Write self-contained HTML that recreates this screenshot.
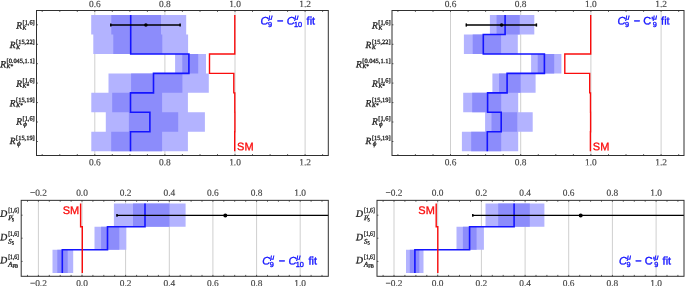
<!DOCTYPE html><html><head><meta charset="utf-8"><title>fit plots</title><style>html,body{margin:0;padding:0;background:#fff}svg{display:block}text{font-family:"Liberation Serif",serif}.s{font-family:"Liberation Sans",sans-serif}</style></head><body>
<svg width="685" height="286" viewBox="0 0 685 286">
<rect width="685" height="286" fill="#fff"/>
<line x1="94.8" y1="10.5" x2="94.8" y2="155.5" stroke="#cfcfcf" stroke-width="1"/>
<line x1="164.9" y1="10.5" x2="164.9" y2="155.5" stroke="#cfcfcf" stroke-width="1"/>
<line x1="235.0" y1="10.5" x2="235.0" y2="155.5" stroke="#cfcfcf" stroke-width="1"/>
<line x1="305.1" y1="10.5" x2="305.1" y2="155.5" stroke="#cfcfcf" stroke-width="1"/>
<path d="M186.2 15.10L186.2 34.54L188.1 34.54L188.1 53.98L206.0 53.98L206.0 73.42L208.8 73.42L208.8 92.86L187.9 92.86L187.9 112.30L204.9 112.30L204.9 131.74L187.9 131.74L187.9 151.18L91.3 151.18L91.3 131.74L105.8 131.74L105.8 112.30L91.3 112.30L91.3 92.86L108.5 92.86L108.5 73.42L175.1 73.42L175.1 53.98L93.3 53.98L93.3 34.54L91.2 34.54L91.2 15.10Z" fill="#b3b3ff"/>
<path d="M161.0 15.10L161.0 34.54L162.3 34.54L162.3 53.98L198.2 53.98L198.2 73.42L182.4 73.42L182.4 92.86L162.1 92.86L162.1 112.30L178.2 112.30L178.2 131.74L162.1 131.74L162.1 151.18L111.2 151.18L111.2 131.74L128.9 131.74L128.9 112.30L112.2 112.30L112.2 92.86L131.1 92.86L131.1 73.42L182.3 73.42L182.3 53.98L113.3 53.98L113.3 34.54L111.3 34.54L111.3 15.10Z" fill="#8c8cfb"/>
<path d="M130.7 15.1L130.7 34.5L130.7 34.5L130.7 54.0L188.9 54.0L188.9 73.4L153.5 73.4L153.5 92.9L130.5 92.9L130.5 112.3L149.9 112.3L149.9 131.7L130.5 131.7L130.5 151.2" fill="none" stroke="#1414ff" stroke-width="1.6" stroke-linejoin="miter"/>
<path d="M234.8 15.1L234.8 34.5L234.8 34.5L234.8 54.0L209.5 54.0L209.5 73.4L233.8 73.4L233.8 92.9L234.8 92.9L234.8 112.3L234.9 112.3L234.9 131.7L234.7 131.7L234.7 151.2" fill="none" stroke="#fa0c0c" stroke-width="1.4" stroke-linejoin="miter"/>
<line x1="110.5" y1="25" x2="180.4" y2="25" stroke="#000" stroke-width="1.4"/>
<line x1="110.8" y1="23.4" x2="110.8" y2="26.6" stroke="#000" stroke-width="1.5"/>
<line x1="180.1" y1="23.4" x2="180.1" y2="26.6" stroke="#000" stroke-width="1.5"/>
<circle cx="145.9" cy="25" r="1.8" fill="#000"/>
<rect x="36.5" y="10.5" width="291.8" height="145.0" fill="none" stroke="#303030" stroke-width="1"/>
<path d="M42.2 10.5v1.4M42.2 155.5v-1.4M59.8 10.5v1.4M59.8 155.5v-1.4M77.3 10.5v1.4M77.3 155.5v-1.4M94.8 10.5v1.4M94.8 155.5v-1.4M112.3 10.5v1.4M112.3 155.5v-1.4M129.9 10.5v1.4M129.9 155.5v-1.4M147.4 10.5v1.4M147.4 155.5v-1.4M164.9 10.5v1.4M164.9 155.5v-1.4M182.4 10.5v1.4M182.4 155.5v-1.4M200.0 10.5v1.4M200.0 155.5v-1.4M217.5 10.5v1.4M217.5 155.5v-1.4M235.0 10.5v1.4M235.0 155.5v-1.4M252.5 10.5v1.4M252.5 155.5v-1.4M270.1 10.5v1.4M270.1 155.5v-1.4M287.6 10.5v1.4M287.6 155.5v-1.4M305.1 10.5v1.4M305.1 155.5v-1.4M322.6 10.5v1.4M322.6 155.5v-1.4M36.5 24.8h1.4M36.5 44.3h1.4M36.5 63.7h1.4M36.5 83.1h1.4M36.5 102.6h1.4M36.5 122.0h1.4M36.5 141.5h1.4" stroke="#303030" stroke-width="0.8" fill="none"/>
<text x="94.8" y="6.9" transform="rotate(0.05 94.8 6.9)" font-size="9.4" text-anchor="middle" fill="#444" stroke="#444" stroke-width="0.15">0.6</text>
<text x="94.8" y="165.2" transform="rotate(0.05 94.8 165.2)" font-size="9.4" text-anchor="middle" fill="#444" stroke="#444" stroke-width="0.15">0.6</text>
<text x="164.9" y="6.9" transform="rotate(0.05 164.9 6.9)" font-size="9.4" text-anchor="middle" fill="#444" stroke="#444" stroke-width="0.15">0.8</text>
<text x="164.9" y="165.2" transform="rotate(0.05 164.9 165.2)" font-size="9.4" text-anchor="middle" fill="#444" stroke="#444" stroke-width="0.15">0.8</text>
<text x="235.0" y="6.9" transform="rotate(0.05 235.0 6.9)" font-size="9.4" text-anchor="middle" fill="#444" stroke="#444" stroke-width="0.15">1.0</text>
<text x="235.0" y="165.2" transform="rotate(0.05 235.0 165.2)" font-size="9.4" text-anchor="middle" fill="#444" stroke="#444" stroke-width="0.15">1.0</text>
<text x="305.1" y="6.9" transform="rotate(0.05 305.1 6.9)" font-size="9.4" text-anchor="middle" fill="#444" stroke="#444" stroke-width="0.15">1.2</text>
<text x="305.1" y="165.2" transform="rotate(0.05 305.1 165.2)" font-size="9.4" text-anchor="middle" fill="#444" stroke="#444" stroke-width="0.15">1.2</text>
<text x="22.0" y="28.6" transform="rotate(0.05 22.0 28.6)" font-size="9.5" font-style="italic" text-anchor="end" fill="#222" stroke="#222" stroke-width="0.3">R</text>
<text x="22.6" y="29.6" transform="rotate(0.05 22.6 29.6)" font-size="5.6" font-style="italic" fill="#222" stroke="#222" stroke-width="0.3">K</text>
<text x="22.5" y="24.5" transform="rotate(0.05 22.5 24.5)" font-size="6.4" fill="#222" stroke="#222" stroke-width="0.3">[1,6]</text>
<text x="15.6" y="48.1" transform="rotate(0.05 15.6 48.1)" font-size="9.5" font-style="italic" text-anchor="end" fill="#222" stroke="#222" stroke-width="0.3">R</text>
<text x="16.2" y="49.1" transform="rotate(0.05 16.2 49.1)" font-size="5.6" font-style="italic" fill="#222" stroke="#222" stroke-width="0.3">K</text>
<text x="16.1" y="44.0" transform="rotate(0.05 16.1 44.0)" font-size="6.4" fill="#222" stroke="#222" stroke-width="0.3">[15,22]</text>
<text x="6.0" y="67.3" transform="rotate(0.05 6.0 67.3)" font-size="9.5" font-style="italic" text-anchor="end" fill="#222" stroke="#222" stroke-width="0.3">R</text>
<text x="6.6" y="68.1" transform="rotate(0.05 6.6 68.1)" font-size="5.6" font-style="italic" fill="#222" stroke="#222" stroke-width="0.3">K*</text>
<text x="6.5" y="63.1" transform="rotate(0.05 6.5 63.1)" font-size="6.4" fill="#222" stroke="#222" stroke-width="0.3">[0.045,1.1]</text>
<text x="22.0" y="86.7" transform="rotate(0.05 22.0 86.7)" font-size="9.5" font-style="italic" text-anchor="end" fill="#222" stroke="#222" stroke-width="0.3">R</text>
<text x="22.6" y="87.5" transform="rotate(0.05 22.6 87.5)" font-size="5.6" font-style="italic" fill="#222" stroke="#222" stroke-width="0.3">K*</text>
<text x="22.5" y="82.5" transform="rotate(0.05 22.5 82.5)" font-size="6.4" fill="#222" stroke="#222" stroke-width="0.3">[1,6]</text>
<text x="15.6" y="106.2" transform="rotate(0.05 15.6 106.2)" font-size="9.5" font-style="italic" text-anchor="end" fill="#222" stroke="#222" stroke-width="0.3">R</text>
<text x="16.2" y="107.0" transform="rotate(0.05 16.2 107.0)" font-size="5.6" font-style="italic" fill="#222" stroke="#222" stroke-width="0.3">K*</text>
<text x="16.1" y="102.0" transform="rotate(0.05 16.1 102.0)" font-size="6.4" fill="#222" stroke="#222" stroke-width="0.3">[15,19]</text>
<text x="22.0" y="124.4" transform="rotate(0.05 22.0 124.4)" font-size="9.5" font-style="italic" text-anchor="end" fill="#222" stroke="#222" stroke-width="0.3">R</text>
<text x="23.3" y="126.2" transform="rotate(0.05 23.3 126.2)" font-size="7" font-style="italic" fill="#222" stroke="#222" stroke-width="0.3">ϕ</text>
<text x="22.5" y="120.4" transform="rotate(0.05 22.5 120.4)" font-size="6.4" fill="#222" stroke="#222" stroke-width="0.3">[1,6]</text>
<text x="15.6" y="143.9" transform="rotate(0.05 15.6 143.9)" font-size="9.5" font-style="italic" text-anchor="end" fill="#222" stroke="#222" stroke-width="0.3">R</text>
<text x="16.9" y="145.7" transform="rotate(0.05 16.9 145.7)" font-size="7" font-style="italic" fill="#222" stroke="#222" stroke-width="0.3">ϕ</text>
<text x="16.1" y="139.9" transform="rotate(0.05 16.1 139.9)" font-size="6.4" fill="#222" stroke="#222" stroke-width="0.3">[15,19]</text>
<text class="s" x="260.4" y="24.5" transform="rotate(0.05 260.4 24.5)" font-size="11" fill="#1414ff" stroke="#1414ff" stroke-width="0.35" font-style="italic">C</text>
<text class="s" x="268.0" y="27.1" transform="rotate(0.05 268.0 27.1)" font-size="7.3" fill="#1414ff" stroke="#1414ff" stroke-width="0.35">9</text>
<text class="s" x="268.5" y="19.6" transform="rotate(0.05 268.5 19.6)" font-size="7.3" fill="#1414ff" stroke="#1414ff" stroke-width="0.35" font-style="italic">μ</text>
<text class="s" x="277.0" y="24.5" transform="rotate(0.05 277.0 24.5)" font-size="11" fill="#1414ff" stroke="#1414ff" stroke-width="0.35">−</text>
<text class="s" x="286.7" y="24.5" transform="rotate(0.05 286.7 24.5)" font-size="11" fill="#1414ff" stroke="#1414ff" stroke-width="0.35" font-style="italic">C</text>
<text class="s" x="294.0" y="27.1" transform="rotate(0.05 294.0 27.1)" font-size="7.3" fill="#1414ff" stroke="#1414ff" stroke-width="0.35">10</text>
<text class="s" x="294.6" y="19.6" transform="rotate(0.05 294.6 19.6)" font-size="7.3" fill="#1414ff" stroke="#1414ff" stroke-width="0.35" font-style="italic">μ</text>
<text class="s" x="306.6" y="24.5" transform="rotate(0.05 306.6 24.5)" font-size="11" fill="#1414ff" stroke="#1414ff" stroke-width="0.35">fit</text>
<text class="s" x="237.1" y="150.2" transform="rotate(0.05 237.1 150.2)" font-size="11" fill="#fa0c0c" stroke="#fa0c0c" stroke-width="0.3">SM</text>
<line x1="450.5" y1="10.5" x2="450.5" y2="155.5" stroke="#cfcfcf" stroke-width="1"/>
<line x1="520.7" y1="10.5" x2="520.7" y2="155.5" stroke="#cfcfcf" stroke-width="1"/>
<line x1="590.9" y1="10.5" x2="590.9" y2="155.5" stroke="#cfcfcf" stroke-width="1"/>
<line x1="661.1" y1="10.5" x2="661.1" y2="155.5" stroke="#cfcfcf" stroke-width="1"/>
<path d="M534.3 15.10L534.3 34.54L517.8 34.54L517.8 53.98L561.4 53.98L561.4 73.42L535.6 73.42L535.6 92.86L518.2 92.86L518.2 112.30L532.7 112.30L532.7 131.74L518.2 131.74L518.2 151.18L461.9 151.18L461.9 131.74L485.1 131.74L485.1 112.30L463.2 112.30L463.2 92.86L492.4 92.86L492.4 73.42L531.1 73.42L531.1 53.98L463.9 53.98L463.9 34.54L489.9 34.54L489.9 15.10Z" fill="#b3b3ff"/>
<path d="M519.7 15.10L519.7 34.54L501.1 34.54L501.1 53.98L554.2 53.98L554.2 73.42L520.7 73.42L520.7 92.86L501.2 92.86L501.2 112.30L517.3 112.30L517.3 131.74L501.2 131.74L501.2 151.18L471.2 151.18L471.2 131.74L491.5 131.74L491.5 112.30L472.2 112.30L472.2 92.86L499.0 92.86L499.0 73.42L537.7 73.42L537.7 53.98L472.7 53.98L472.7 34.54L496.6 34.54L496.6 15.10Z" fill="#8c8cfb"/>
<path d="M505.1 15.1L505.1 34.5L483.3 34.5L483.3 54.0L544.4 54.0L544.4 73.4L507.1 73.4L507.1 92.9L487.6 92.9L487.6 112.3L501.2 112.3L501.2 131.7L487.3 131.7L487.3 151.2" fill="none" stroke="#1414ff" stroke-width="1.6" stroke-linejoin="miter"/>
<path d="M590.7 15.1L590.7 34.5L590.7 34.5L590.7 54.0L564.8 54.0L564.8 73.4L589.7 73.4L589.7 92.9L590.5 92.9L590.5 112.3L590.6 112.3L590.6 131.7L590.4 131.7L590.4 151.2" fill="none" stroke="#fa0c0c" stroke-width="1.4" stroke-linejoin="miter"/>
<line x1="466.0" y1="25" x2="536.7" y2="25" stroke="#000" stroke-width="1.4"/>
<line x1="466.3" y1="23.4" x2="466.3" y2="26.6" stroke="#000" stroke-width="1.5"/>
<line x1="536.4" y1="23.4" x2="536.4" y2="26.6" stroke="#000" stroke-width="1.5"/>
<circle cx="501.6" cy="25" r="1.8" fill="#000"/>
<rect x="392.0" y="10.5" width="292.0" height="145.0" fill="none" stroke="#303030" stroke-width="1"/>
<path d="M397.9 10.5v1.4M397.9 155.5v-1.4M415.4 10.5v1.4M415.4 155.5v-1.4M433.0 10.5v1.4M433.0 155.5v-1.4M450.5 10.5v1.4M450.5 155.5v-1.4M468.1 10.5v1.4M468.1 155.5v-1.4M485.6 10.5v1.4M485.6 155.5v-1.4M503.2 10.5v1.4M503.2 155.5v-1.4M520.7 10.5v1.4M520.7 155.5v-1.4M538.3 10.5v1.4M538.3 155.5v-1.4M555.8 10.5v1.4M555.8 155.5v-1.4M573.4 10.5v1.4M573.4 155.5v-1.4M590.9 10.5v1.4M590.9 155.5v-1.4M608.5 10.5v1.4M608.5 155.5v-1.4M626.0 10.5v1.4M626.0 155.5v-1.4M643.6 10.5v1.4M643.6 155.5v-1.4M661.1 10.5v1.4M661.1 155.5v-1.4M678.7 10.5v1.4M678.7 155.5v-1.4M392.0 24.8h1.4M392.0 44.3h1.4M392.0 63.7h1.4M392.0 83.1h1.4M392.0 102.6h1.4M392.0 122.0h1.4M392.0 141.5h1.4" stroke="#303030" stroke-width="0.8" fill="none"/>
<text x="450.5" y="6.9" transform="rotate(0.05 450.5 6.9)" font-size="9.4" text-anchor="middle" fill="#444" stroke="#444" stroke-width="0.15">0.6</text>
<text x="450.5" y="165.2" transform="rotate(0.05 450.5 165.2)" font-size="9.4" text-anchor="middle" fill="#444" stroke="#444" stroke-width="0.15">0.6</text>
<text x="520.7" y="6.9" transform="rotate(0.05 520.7 6.9)" font-size="9.4" text-anchor="middle" fill="#444" stroke="#444" stroke-width="0.15">0.8</text>
<text x="520.7" y="165.2" transform="rotate(0.05 520.7 165.2)" font-size="9.4" text-anchor="middle" fill="#444" stroke="#444" stroke-width="0.15">0.8</text>
<text x="590.9" y="6.9" transform="rotate(0.05 590.9 6.9)" font-size="9.4" text-anchor="middle" fill="#444" stroke="#444" stroke-width="0.15">1.0</text>
<text x="590.9" y="165.2" transform="rotate(0.05 590.9 165.2)" font-size="9.4" text-anchor="middle" fill="#444" stroke="#444" stroke-width="0.15">1.0</text>
<text x="661.1" y="6.9" transform="rotate(0.05 661.1 6.9)" font-size="9.4" text-anchor="middle" fill="#444" stroke="#444" stroke-width="0.15">1.2</text>
<text x="661.1" y="165.2" transform="rotate(0.05 661.1 165.2)" font-size="9.4" text-anchor="middle" fill="#444" stroke="#444" stroke-width="0.15">1.2</text>
<text x="377.8" y="28.6" transform="rotate(0.05 377.8 28.6)" font-size="9.5" font-style="italic" text-anchor="end" fill="#222" stroke="#222" stroke-width="0.3">R</text>
<text x="378.4" y="29.6" transform="rotate(0.05 378.4 29.6)" font-size="5.6" font-style="italic" fill="#222" stroke="#222" stroke-width="0.3">K</text>
<text x="378.3" y="24.5" transform="rotate(0.05 378.3 24.5)" font-size="6.4" fill="#222" stroke="#222" stroke-width="0.3">[1,6]</text>
<text x="371.4" y="48.1" transform="rotate(0.05 371.4 48.1)" font-size="9.5" font-style="italic" text-anchor="end" fill="#222" stroke="#222" stroke-width="0.3">R</text>
<text x="372.0" y="49.1" transform="rotate(0.05 372.0 49.1)" font-size="5.6" font-style="italic" fill="#222" stroke="#222" stroke-width="0.3">K</text>
<text x="371.9" y="44.0" transform="rotate(0.05 371.9 44.0)" font-size="6.4" fill="#222" stroke="#222" stroke-width="0.3">[15,22]</text>
<text x="361.8" y="67.3" transform="rotate(0.05 361.8 67.3)" font-size="9.5" font-style="italic" text-anchor="end" fill="#222" stroke="#222" stroke-width="0.3">R</text>
<text x="362.4" y="68.1" transform="rotate(0.05 362.4 68.1)" font-size="5.6" font-style="italic" fill="#222" stroke="#222" stroke-width="0.3">K*</text>
<text x="362.3" y="63.1" transform="rotate(0.05 362.3 63.1)" font-size="6.4" fill="#222" stroke="#222" stroke-width="0.3">[0.045,1.1]</text>
<text x="377.8" y="86.7" transform="rotate(0.05 377.8 86.7)" font-size="9.5" font-style="italic" text-anchor="end" fill="#222" stroke="#222" stroke-width="0.3">R</text>
<text x="378.4" y="87.5" transform="rotate(0.05 378.4 87.5)" font-size="5.6" font-style="italic" fill="#222" stroke="#222" stroke-width="0.3">K*</text>
<text x="378.3" y="82.5" transform="rotate(0.05 378.3 82.5)" font-size="6.4" fill="#222" stroke="#222" stroke-width="0.3">[1,6]</text>
<text x="371.4" y="106.2" transform="rotate(0.05 371.4 106.2)" font-size="9.5" font-style="italic" text-anchor="end" fill="#222" stroke="#222" stroke-width="0.3">R</text>
<text x="372.0" y="107.0" transform="rotate(0.05 372.0 107.0)" font-size="5.6" font-style="italic" fill="#222" stroke="#222" stroke-width="0.3">K*</text>
<text x="371.9" y="102.0" transform="rotate(0.05 371.9 102.0)" font-size="6.4" fill="#222" stroke="#222" stroke-width="0.3">[15,19]</text>
<text x="377.8" y="124.4" transform="rotate(0.05 377.8 124.4)" font-size="9.5" font-style="italic" text-anchor="end" fill="#222" stroke="#222" stroke-width="0.3">R</text>
<text x="379.1" y="126.2" transform="rotate(0.05 379.1 126.2)" font-size="7" font-style="italic" fill="#222" stroke="#222" stroke-width="0.3">ϕ</text>
<text x="378.3" y="120.4" transform="rotate(0.05 378.3 120.4)" font-size="6.4" fill="#222" stroke="#222" stroke-width="0.3">[1,6]</text>
<text x="371.4" y="143.9" transform="rotate(0.05 371.4 143.9)" font-size="9.5" font-style="italic" text-anchor="end" fill="#222" stroke="#222" stroke-width="0.3">R</text>
<text x="372.7" y="145.7" transform="rotate(0.05 372.7 145.7)" font-size="7" font-style="italic" fill="#222" stroke="#222" stroke-width="0.3">ϕ</text>
<text x="371.9" y="139.9" transform="rotate(0.05 371.9 139.9)" font-size="6.4" fill="#222" stroke="#222" stroke-width="0.3">[15,19]</text>
<text class="s" x="617.5" y="24.5" transform="rotate(0.05 617.5 24.5)" font-size="11" fill="#1414ff" stroke="#1414ff" stroke-width="0.35" font-style="italic">C</text>
<text class="s" x="625.1" y="27.1" transform="rotate(0.05 625.1 27.1)" font-size="7.3" fill="#1414ff" stroke="#1414ff" stroke-width="0.35">9</text>
<text class="s" x="625.6" y="19.6" transform="rotate(0.05 625.6 19.6)" font-size="7.3" fill="#1414ff" stroke="#1414ff" stroke-width="0.35" font-style="italic">μ</text>
<text class="s" x="633.7" y="24.5" transform="rotate(0.05 633.7 24.5)" font-size="11" fill="#1414ff" stroke="#1414ff" stroke-width="0.35">−</text>
<text class="s" x="643.2" y="24.5" transform="rotate(0.05 643.2 24.5)" font-size="11" fill="#1414ff" stroke="#1414ff" stroke-width="0.35">C'</text>
<text class="s" x="652.8" y="27.1" transform="rotate(0.05 652.8 27.1)" font-size="7.3" fill="#1414ff" stroke="#1414ff" stroke-width="0.35">9</text>
<text class="s" x="653.1" y="19.6" transform="rotate(0.05 653.1 19.6)" font-size="7.3" fill="#1414ff" stroke="#1414ff" stroke-width="0.35" font-style="italic">μ</text>
<text class="s" x="661.1" y="24.5" transform="rotate(0.05 661.1 24.5)" font-size="11" fill="#1414ff" stroke="#1414ff" stroke-width="0.35">fit</text>
<text class="s" x="592.8" y="150.2" transform="rotate(0.05 592.8 150.2)" font-size="11" fill="#fa0c0c" stroke="#fa0c0c" stroke-width="0.3">SM</text>
<line x1="38.4" y1="200.35" x2="38.4" y2="276.3" stroke="#cfcfcf" stroke-width="1"/>
<line x1="82.0" y1="200.35" x2="82.0" y2="276.3" stroke="#cfcfcf" stroke-width="1"/>
<line x1="125.6" y1="200.35" x2="125.6" y2="276.3" stroke="#cfcfcf" stroke-width="1"/>
<line x1="169.3" y1="200.35" x2="169.3" y2="276.3" stroke="#cfcfcf" stroke-width="1"/>
<line x1="212.9" y1="200.35" x2="212.9" y2="276.3" stroke="#cfcfcf" stroke-width="1"/>
<line x1="256.6" y1="200.35" x2="256.6" y2="276.3" stroke="#cfcfcf" stroke-width="1"/>
<line x1="300.2" y1="200.35" x2="300.2" y2="276.3" stroke="#cfcfcf" stroke-width="1"/>
<path d="M185.6 203.60L185.6 226.70L126.3 226.70L126.3 249.80L73.2 249.80L73.2 272.90L52.5 272.90L52.5 249.80L94.5 249.80L94.5 226.70L113.9 226.70L113.9 203.60Z" fill="#b3b3ff"/>
<path d="M169.5 203.60L169.5 226.70L119.3 226.70L119.3 249.80L67.7 249.80L67.7 272.90L57.3 272.90L57.3 249.80L101.1 249.80L101.1 226.70L133.0 226.70L133.0 203.60Z" fill="#8c8cfb"/>
<path d="M145.0 203.6L145.0 226.7L107.5 226.7L107.5 249.8L62.3 249.8L62.3 272.9" fill="none" stroke="#1414ff" stroke-width="1.6" stroke-linejoin="miter"/>
<path d="M80.6 203.6L80.6 226.7L82.3 226.7L82.3 249.8L82.3 249.8L82.3 272.9" fill="none" stroke="#fa0c0c" stroke-width="1.4" stroke-linejoin="miter"/>
<line x1="116.7" y1="215.4" x2="328.3" y2="215.4" stroke="#000" stroke-width="1.1"/>
<line x1="117.0" y1="214.1" x2="117.0" y2="216.70000000000002" stroke="#000" stroke-width="1.5"/>
<circle cx="225.3" cy="215.4" r="2.0" fill="#000"/>
<rect x="21.2" y="200.35" width="307.1" height="75.95000000000002" fill="none" stroke="#303030" stroke-width="1"/>
<path d="M27.5 200.35v1.4M27.5 276.3v-1.4M38.4 200.35v1.4M38.4 276.3v-1.4M49.3 200.35v1.4M49.3 276.3v-1.4M60.2 200.35v1.4M60.2 276.3v-1.4M71.1 200.35v1.4M71.1 276.3v-1.4M82.0 200.35v1.4M82.0 276.3v-1.4M92.9 200.35v1.4M92.9 276.3v-1.4M103.8 200.35v1.4M103.8 276.3v-1.4M114.7 200.35v1.4M114.7 276.3v-1.4M125.6 200.35v1.4M125.6 276.3v-1.4M136.6 200.35v1.4M136.6 276.3v-1.4M147.5 200.35v1.4M147.5 276.3v-1.4M158.4 200.35v1.4M158.4 276.3v-1.4M169.3 200.35v1.4M169.3 276.3v-1.4M180.2 200.35v1.4M180.2 276.3v-1.4M191.1 200.35v1.4M191.1 276.3v-1.4M202.0 200.35v1.4M202.0 276.3v-1.4M212.9 200.35v1.4M212.9 276.3v-1.4M223.8 200.35v1.4M223.8 276.3v-1.4M234.7 200.35v1.4M234.7 276.3v-1.4M245.7 200.35v1.4M245.7 276.3v-1.4M256.6 200.35v1.4M256.6 276.3v-1.4M267.5 200.35v1.4M267.5 276.3v-1.4M278.4 200.35v1.4M278.4 276.3v-1.4M289.3 200.35v1.4M289.3 276.3v-1.4M300.2 200.35v1.4M300.2 276.3v-1.4M311.1 200.35v1.4M311.1 276.3v-1.4M322.0 200.35v1.4M322.0 276.3v-1.4M21.2 215.2h1.4M21.2 238.2h1.4M21.2 261.4h1.4" stroke="#303030" stroke-width="0.8" fill="none"/>
<text x="38.4" y="195.8" transform="rotate(0.05 38.4 195.8)" font-size="9.4" text-anchor="middle" fill="#444" stroke="#444" stroke-width="0.15">−0.2</text>
<text x="38.4" y="286.2" transform="rotate(0.05 38.4 286.2)" font-size="9.4" text-anchor="middle" fill="#444" stroke="#444" stroke-width="0.15">−0.2</text>
<text x="82.0" y="195.8" transform="rotate(0.05 82.0 195.8)" font-size="9.4" text-anchor="middle" fill="#444" stroke="#444" stroke-width="0.15">0.0</text>
<text x="82.0" y="286.2" transform="rotate(0.05 82.0 286.2)" font-size="9.4" text-anchor="middle" fill="#444" stroke="#444" stroke-width="0.15">0.0</text>
<text x="125.6" y="195.8" transform="rotate(0.05 125.6 195.8)" font-size="9.4" text-anchor="middle" fill="#444" stroke="#444" stroke-width="0.15">0.2</text>
<text x="125.6" y="286.2" transform="rotate(0.05 125.6 286.2)" font-size="9.4" text-anchor="middle" fill="#444" stroke="#444" stroke-width="0.15">0.2</text>
<text x="169.3" y="195.8" transform="rotate(0.05 169.3 195.8)" font-size="9.4" text-anchor="middle" fill="#444" stroke="#444" stroke-width="0.15">0.4</text>
<text x="169.3" y="286.2" transform="rotate(0.05 169.3 286.2)" font-size="9.4" text-anchor="middle" fill="#444" stroke="#444" stroke-width="0.15">0.4</text>
<text x="212.9" y="195.8" transform="rotate(0.05 212.9 195.8)" font-size="9.4" text-anchor="middle" fill="#444" stroke="#444" stroke-width="0.15">0.6</text>
<text x="212.9" y="286.2" transform="rotate(0.05 212.9 286.2)" font-size="9.4" text-anchor="middle" fill="#444" stroke="#444" stroke-width="0.15">0.6</text>
<text x="256.6" y="195.8" transform="rotate(0.05 256.6 195.8)" font-size="9.4" text-anchor="middle" fill="#444" stroke="#444" stroke-width="0.15">0.8</text>
<text x="256.6" y="286.2" transform="rotate(0.05 256.6 286.2)" font-size="9.4" text-anchor="middle" fill="#444" stroke="#444" stroke-width="0.15">0.8</text>
<text x="300.2" y="195.8" transform="rotate(0.05 300.2 195.8)" font-size="9.4" text-anchor="middle" fill="#444" stroke="#444" stroke-width="0.15">1.0</text>
<text x="300.2" y="286.2" transform="rotate(0.05 300.2 286.2)" font-size="9.4" text-anchor="middle" fill="#444" stroke="#444" stroke-width="0.15">1.0</text>
<text x="0.2" y="216.7" transform="rotate(0.05 0.2 216.7)" font-size="9.7" font-style="italic" fill="#222" stroke="#222" stroke-width="0.3">D</text>
<text x="8.2" y="212.3" transform="rotate(0.05 8.2 212.3)" font-size="6.6" textLength="10.8" lengthAdjust="spacingAndGlyphs" fill="#222" stroke="#222" stroke-width="0.3">[1,6]</text>
<text x="8.3" y="219.9" transform="rotate(0.05 8.3 219.9)" font-size="6.8" font-style="italic" fill="#222" stroke="#222" stroke-width="0.3">P<tspan font-size="4.5" dx="-0.3" dy="-2.2">′</tspan><tspan font-size="4.6" font-style="normal" dx="-1.5" dy="3.6">5</tspan></text>
<text x="0.2" y="240.2" transform="rotate(0.05 0.2 240.2)" font-size="9.7" font-style="italic" fill="#222" stroke="#222" stroke-width="0.3">D</text>
<text x="8.2" y="235.8" transform="rotate(0.05 8.2 235.8)" font-size="6.6" textLength="10.8" lengthAdjust="spacingAndGlyphs" fill="#222" stroke="#222" stroke-width="0.3">[1,6]</text>
<text x="8.3" y="243.4" transform="rotate(0.05 8.3 243.4)" font-size="6.8" font-style="italic" fill="#222" stroke="#222" stroke-width="0.3">S<tspan font-size="4.6" font-style="normal" dy="1.2">5</tspan></text>
<text x="0.2" y="263.2" transform="rotate(0.05 0.2 263.2)" font-size="9.7" font-style="italic" fill="#222" stroke="#222" stroke-width="0.3">D</text>
<text x="8.2" y="259.0" transform="rotate(0.05 8.2 259.0)" font-size="6.6" textLength="10.8" lengthAdjust="spacingAndGlyphs" fill="#222" stroke="#222" stroke-width="0.3">[1,6]</text>
<text x="8.3" y="266.6" transform="rotate(0.05 8.3 266.6)" font-size="6.8" font-style="italic" fill="#222" stroke="#222" stroke-width="0.3">A<tspan font-size="4.6" font-style="normal" dy="0.8">FB</tspan></text>
<text class="s" x="262.2" y="264.5" transform="rotate(0.05 262.2 264.5)" font-size="11" fill="#1414ff" stroke="#1414ff" stroke-width="0.35" font-style="italic">C</text>
<text class="s" x="269.8" y="267.1" transform="rotate(0.05 269.8 267.1)" font-size="7.3" fill="#1414ff" stroke="#1414ff" stroke-width="0.35">9</text>
<text class="s" x="270.3" y="259.6" transform="rotate(0.05 270.3 259.6)" font-size="7.3" fill="#1414ff" stroke="#1414ff" stroke-width="0.35" font-style="italic">μ</text>
<text class="s" x="278.8" y="264.5" transform="rotate(0.05 278.8 264.5)" font-size="11" fill="#1414ff" stroke="#1414ff" stroke-width="0.35">−</text>
<text class="s" x="288.5" y="264.5" transform="rotate(0.05 288.5 264.5)" font-size="11" fill="#1414ff" stroke="#1414ff" stroke-width="0.35" font-style="italic">C</text>
<text class="s" x="295.8" y="267.1" transform="rotate(0.05 295.8 267.1)" font-size="7.3" fill="#1414ff" stroke="#1414ff" stroke-width="0.35">10</text>
<text class="s" x="296.4" y="259.6" transform="rotate(0.05 296.4 259.6)" font-size="7.3" fill="#1414ff" stroke="#1414ff" stroke-width="0.35" font-style="italic">μ</text>
<text class="s" x="308.4" y="264.5" transform="rotate(0.05 308.4 264.5)" font-size="11" fill="#1414ff" stroke="#1414ff" stroke-width="0.35">fit</text>
<text class="s" x="62.7" y="214.0" transform="rotate(0.05 62.7 214.0)" font-size="11" fill="#fa0c0c" stroke="#fa0c0c" stroke-width="0.3">SM</text>
<line x1="394.0" y1="200.35" x2="394.0" y2="276.3" stroke="#cfcfcf" stroke-width="1"/>
<line x1="437.7" y1="200.35" x2="437.7" y2="276.3" stroke="#cfcfcf" stroke-width="1"/>
<line x1="481.4" y1="200.35" x2="481.4" y2="276.3" stroke="#cfcfcf" stroke-width="1"/>
<line x1="525.1" y1="200.35" x2="525.1" y2="276.3" stroke="#cfcfcf" stroke-width="1"/>
<line x1="568.7" y1="200.35" x2="568.7" y2="276.3" stroke="#cfcfcf" stroke-width="1"/>
<line x1="612.4" y1="200.35" x2="612.4" y2="276.3" stroke="#cfcfcf" stroke-width="1"/>
<line x1="656.1" y1="200.35" x2="656.1" y2="276.3" stroke="#cfcfcf" stroke-width="1"/>
<path d="M544.4 203.60L544.4 226.70L483.9 226.70L483.9 249.80L423.5 249.80L423.5 272.90L406.0 272.90L406.0 249.80L456.5 249.80L456.5 226.70L485.5 226.70L485.5 203.60Z" fill="#b3b3ff"/>
<path d="M529.8 203.60L529.8 226.70L476.6 226.70L476.6 249.80L419.3 249.80L419.3 272.90L409.8 272.90L409.8 249.80L462.9 249.80L462.9 226.70L498.2 226.70L498.2 203.60Z" fill="#8c8cfb"/>
<path d="M514.1 203.6L514.1 226.7L469.6 226.7L469.6 249.8L414.9 249.8L414.9 272.9" fill="none" stroke="#1414ff" stroke-width="1.6" stroke-linejoin="miter"/>
<path d="M436.2 203.6L436.2 226.7L437.8 226.7L437.8 249.8L437.8 249.8L437.8 272.9" fill="none" stroke="#fa0c0c" stroke-width="1.4" stroke-linejoin="miter"/>
<line x1="472.5" y1="215.4" x2="684.0" y2="215.4" stroke="#000" stroke-width="1.1"/>
<line x1="472.8" y1="214.1" x2="472.8" y2="216.70000000000002" stroke="#000" stroke-width="1.5"/>
<circle cx="580.7" cy="215.4" r="2.0" fill="#000"/>
<rect x="377.0" y="200.35" width="307.0" height="75.95000000000002" fill="none" stroke="#303030" stroke-width="1"/>
<path d="M383.1 200.35v1.4M383.1 276.3v-1.4M394.0 200.35v1.4M394.0 276.3v-1.4M404.9 200.35v1.4M404.9 276.3v-1.4M415.9 200.35v1.4M415.9 276.3v-1.4M426.8 200.35v1.4M426.8 276.3v-1.4M437.7 200.35v1.4M437.7 276.3v-1.4M448.6 200.35v1.4M448.6 276.3v-1.4M459.5 200.35v1.4M459.5 276.3v-1.4M470.5 200.35v1.4M470.5 276.3v-1.4M481.4 200.35v1.4M481.4 276.3v-1.4M492.3 200.35v1.4M492.3 276.3v-1.4M503.2 200.35v1.4M503.2 276.3v-1.4M514.1 200.35v1.4M514.1 276.3v-1.4M525.1 200.35v1.4M525.1 276.3v-1.4M536.0 200.35v1.4M536.0 276.3v-1.4M546.9 200.35v1.4M546.9 276.3v-1.4M557.8 200.35v1.4M557.8 276.3v-1.4M568.7 200.35v1.4M568.7 276.3v-1.4M579.7 200.35v1.4M579.7 276.3v-1.4M590.6 200.35v1.4M590.6 276.3v-1.4M601.5 200.35v1.4M601.5 276.3v-1.4M612.4 200.35v1.4M612.4 276.3v-1.4M623.3 200.35v1.4M623.3 276.3v-1.4M634.3 200.35v1.4M634.3 276.3v-1.4M645.2 200.35v1.4M645.2 276.3v-1.4M656.1 200.35v1.4M656.1 276.3v-1.4M667.0 200.35v1.4M667.0 276.3v-1.4M677.9 200.35v1.4M677.9 276.3v-1.4M377.0 215.2h1.4M377.0 238.2h1.4M377.0 261.4h1.4" stroke="#303030" stroke-width="0.8" fill="none"/>
<text x="394.0" y="195.8" transform="rotate(0.05 394.0 195.8)" font-size="9.4" text-anchor="middle" fill="#444" stroke="#444" stroke-width="0.15">−0.2</text>
<text x="394.0" y="286.2" transform="rotate(0.05 394.0 286.2)" font-size="9.4" text-anchor="middle" fill="#444" stroke="#444" stroke-width="0.15">−0.2</text>
<text x="437.7" y="195.8" transform="rotate(0.05 437.7 195.8)" font-size="9.4" text-anchor="middle" fill="#444" stroke="#444" stroke-width="0.15">0.0</text>
<text x="437.7" y="286.2" transform="rotate(0.05 437.7 286.2)" font-size="9.4" text-anchor="middle" fill="#444" stroke="#444" stroke-width="0.15">0.0</text>
<text x="481.4" y="195.8" transform="rotate(0.05 481.4 195.8)" font-size="9.4" text-anchor="middle" fill="#444" stroke="#444" stroke-width="0.15">0.2</text>
<text x="481.4" y="286.2" transform="rotate(0.05 481.4 286.2)" font-size="9.4" text-anchor="middle" fill="#444" stroke="#444" stroke-width="0.15">0.2</text>
<text x="525.1" y="195.8" transform="rotate(0.05 525.1 195.8)" font-size="9.4" text-anchor="middle" fill="#444" stroke="#444" stroke-width="0.15">0.4</text>
<text x="525.1" y="286.2" transform="rotate(0.05 525.1 286.2)" font-size="9.4" text-anchor="middle" fill="#444" stroke="#444" stroke-width="0.15">0.4</text>
<text x="568.7" y="195.8" transform="rotate(0.05 568.7 195.8)" font-size="9.4" text-anchor="middle" fill="#444" stroke="#444" stroke-width="0.15">0.6</text>
<text x="568.7" y="286.2" transform="rotate(0.05 568.7 286.2)" font-size="9.4" text-anchor="middle" fill="#444" stroke="#444" stroke-width="0.15">0.6</text>
<text x="612.4" y="195.8" transform="rotate(0.05 612.4 195.8)" font-size="9.4" text-anchor="middle" fill="#444" stroke="#444" stroke-width="0.15">0.8</text>
<text x="612.4" y="286.2" transform="rotate(0.05 612.4 286.2)" font-size="9.4" text-anchor="middle" fill="#444" stroke="#444" stroke-width="0.15">0.8</text>
<text x="656.1" y="195.8" transform="rotate(0.05 656.1 195.8)" font-size="9.4" text-anchor="middle" fill="#444" stroke="#444" stroke-width="0.15">1.0</text>
<text x="656.1" y="286.2" transform="rotate(0.05 656.1 286.2)" font-size="9.4" text-anchor="middle" fill="#444" stroke="#444" stroke-width="0.15">1.0</text>
<text x="356.0" y="216.7" transform="rotate(0.05 356.0 216.7)" font-size="9.7" font-style="italic" fill="#222" stroke="#222" stroke-width="0.3">D</text>
<text x="364.0" y="212.3" transform="rotate(0.05 364.0 212.3)" font-size="6.6" textLength="10.8" lengthAdjust="spacingAndGlyphs" fill="#222" stroke="#222" stroke-width="0.3">[1,6]</text>
<text x="364.1" y="219.9" transform="rotate(0.05 364.1 219.9)" font-size="6.8" font-style="italic" fill="#222" stroke="#222" stroke-width="0.3">P<tspan font-size="4.5" dx="-0.3" dy="-2.2">′</tspan><tspan font-size="4.6" font-style="normal" dx="-1.5" dy="3.6">5</tspan></text>
<text x="356.0" y="240.2" transform="rotate(0.05 356.0 240.2)" font-size="9.7" font-style="italic" fill="#222" stroke="#222" stroke-width="0.3">D</text>
<text x="364.0" y="235.8" transform="rotate(0.05 364.0 235.8)" font-size="6.6" textLength="10.8" lengthAdjust="spacingAndGlyphs" fill="#222" stroke="#222" stroke-width="0.3">[1,6]</text>
<text x="364.1" y="243.4" transform="rotate(0.05 364.1 243.4)" font-size="6.8" font-style="italic" fill="#222" stroke="#222" stroke-width="0.3">S<tspan font-size="4.6" font-style="normal" dy="1.2">5</tspan></text>
<text x="356.0" y="263.2" transform="rotate(0.05 356.0 263.2)" font-size="9.7" font-style="italic" fill="#222" stroke="#222" stroke-width="0.3">D</text>
<text x="364.0" y="259.0" transform="rotate(0.05 364.0 259.0)" font-size="6.6" textLength="10.8" lengthAdjust="spacingAndGlyphs" fill="#222" stroke="#222" stroke-width="0.3">[1,6]</text>
<text x="364.1" y="266.6" transform="rotate(0.05 364.1 266.6)" font-size="6.8" font-style="italic" fill="#222" stroke="#222" stroke-width="0.3">A<tspan font-size="4.6" font-style="normal" dy="0.8">FB</tspan></text>
<text class="s" x="619.0" y="264.5" transform="rotate(0.05 619.0 264.5)" font-size="11" fill="#1414ff" stroke="#1414ff" stroke-width="0.35" font-style="italic">C</text>
<text class="s" x="626.6" y="267.1" transform="rotate(0.05 626.6 267.1)" font-size="7.3" fill="#1414ff" stroke="#1414ff" stroke-width="0.35">9</text>
<text class="s" x="627.1" y="259.6" transform="rotate(0.05 627.1 259.6)" font-size="7.3" fill="#1414ff" stroke="#1414ff" stroke-width="0.35" font-style="italic">μ</text>
<text class="s" x="635.2" y="264.5" transform="rotate(0.05 635.2 264.5)" font-size="11" fill="#1414ff" stroke="#1414ff" stroke-width="0.35">−</text>
<text class="s" x="644.7" y="264.5" transform="rotate(0.05 644.7 264.5)" font-size="11" fill="#1414ff" stroke="#1414ff" stroke-width="0.35">C'</text>
<text class="s" x="654.3" y="267.1" transform="rotate(0.05 654.3 267.1)" font-size="7.3" fill="#1414ff" stroke="#1414ff" stroke-width="0.35">9</text>
<text class="s" x="654.6" y="259.6" transform="rotate(0.05 654.6 259.6)" font-size="7.3" fill="#1414ff" stroke="#1414ff" stroke-width="0.35" font-style="italic">μ</text>
<text class="s" x="662.6" y="264.5" transform="rotate(0.05 662.6 264.5)" font-size="11" fill="#1414ff" stroke="#1414ff" stroke-width="0.35">fit</text>
<text class="s" x="418.3" y="214.0" transform="rotate(0.05 418.3 214.0)" font-size="11" fill="#fa0c0c" stroke="#fa0c0c" stroke-width="0.3">SM</text>
</svg></body></html>
